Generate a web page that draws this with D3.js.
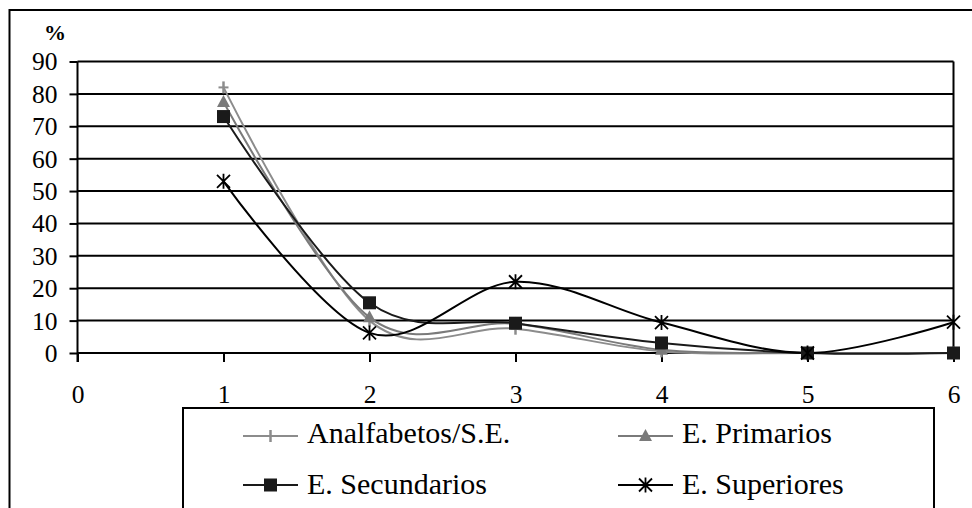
<!DOCTYPE html>
<html><head><meta charset="utf-8">
<script src="https://cdn.jsdelivr.net/npm/d3@7"></script>
<style>
html,body{margin:0;padding:0;background:#fff;}
svg{display:block;}
text{font-family:"Liberation Serif","Times New Roman",serif;fill:#000;}
</style></head>
<body>
<svg id="chart" width="972" height="508"></svg>
<script>
const xValues = [1, 2, 3, 4, 5, 6];
const seriesNames = ["Analfabetos/S.E.", "E. Primarios", "E. Secundarios", "E. Superiores"];
const analfabetos = [82, 10, 7.5, 0.5, 0, 0];
const primarios = [77.5, 11, 9, 1, 0, 0];
const secundarios = [73, 15.5, 9.2, 3.1, 0, 0];
const superiores = [53, 6.2, 22, 9.4, 0, 9.5];
const xTicks = [0, 1, 2, 3, 4, 5, 6];
const yTicks = [0, 10, 20, 30, 40, 50, 60, 70, 80, 90];
const yLabel = "%";

(function () {
const series = [
  {name: seriesNames[0], values: analfabetos, color: "#8c8c8c", marker: "plus"},
  {name: seriesNames[1], values: primarios, color: "#7a7a7a", marker: "triangle"},
  {name: seriesNames[2], values: secundarios, color: "#1a1a1a", marker: "square"},
  {name: seriesNames[3], values: superiores, color: "#000", marker: "star"}
];

const svg = d3.select("#chart");
const pLeft = 77.5, pRight = 953.5, pTop = 61.5, pBottom = 353;
const x = d3.scaleLinear().domain([0, 6]).range([pLeft, pRight]);
const y = d3.scaleLinear().domain([0, 90]).range([pBottom, pTop]);

// outer frame
svg.append("rect").attr("x", 9.5).attr("y", 10).attr("width", 1000).attr("height", 600)
  .attr("fill", "none").attr("stroke", "#000").attr("stroke-width", 2);

// gridlines
svg.append("g").selectAll("line").data(yTicks.filter(d => d > 0)).join("line")
  .attr("x1", pLeft).attr("x2", pRight).attr("y1", d => y(d)).attr("y2", d => y(d))
  .attr("stroke", "#000").attr("stroke-width", 2);

// right border
svg.append("line").attr("x1", pRight).attr("x2", pRight).attr("y1", pTop).attr("y2", pBottom)
  .attr("stroke", "#000").attr("stroke-width", 2);

// y axis
const yAxis = svg.append("g").attr("transform", `translate(${pLeft},0)`)
  .call(d3.axisLeft(y).tickValues(yTicks).tickFormat(d3.format("d")).tickSize(8).tickPadding(12));
yAxis.select(".domain").attr("stroke-width", 2).attr("d", `M0,${pTop}V${pBottom + 9}`);
yAxis.selectAll(".tick line").attr("stroke-width", 2);
yAxis.selectAll("text").attr("font-size", 25.5).attr("dy", "0.33em");

// x axis
const xAxis = svg.append("g").attr("transform", `translate(0,${pBottom})`)
  .call(d3.axisBottom(x).tickValues(xTicks).tickFormat(d3.format("d")).tickSize(9).tickPadding(23));
xAxis.select(".domain").attr("stroke-width", 2).attr("d", `M${pLeft},0H${pRight}`);
xAxis.selectAll(".tick line").attr("stroke-width", 2);
xAxis.selectAll("text").attr("font-size", 25.5);

// % label
svg.append("text").attr("x", 55).attr("y", 40).attr("text-anchor", "middle")
  .attr("font-size", 22).attr("font-weight", "bold").text(yLabel);

// lines
const line = d3.line().x((d, i) => x(xValues[i])).y(d => y(d)).curve(d3.curveCatmullRom.alpha(0));
const gLines = svg.append("g");
series.forEach(s => {
  gLines.append("path").attr("d", line(s.values)).attr("fill", "none")
    .attr("stroke", s.color).attr("stroke-width", 2);
});

function drawMarker(g, type, cx, cy, color) {
  if (type === "plus") {
    g.append("line").attr("x1", cx).attr("x2", cx).attr("y1", cy - 6).attr("y2", cy + 6)
      .attr("stroke", color).attr("stroke-width", 2.5);
    g.append("line").attr("x1", cx - 5).attr("x2", cx + 5).attr("y1", cy).attr("y2", cy)
      .attr("stroke", color).attr("stroke-width", 2);
  } else if (type === "triangle") {
    g.append("path").attr("d", `M${cx},${cy - 7}L${cx + 6.5},${cy + 5}L${cx - 6.5},${cy + 5}Z`)
      .attr("fill", color);
  } else if (type === "square") {
    g.append("rect").attr("x", cx - 6.5).attr("y", cy - 6.5).attr("width", 13).attr("height", 13)
      .attr("fill", color);
  } else if (type === "star") {
    const r = 6.5;
    g.append("path").attr("d", `M${cx - r},${cy - r}L${cx + r},${cy + r}M${cx - r},${cy + r}L${cx + r},${cy - r}M${cx},${cy - r - 1}V${cy + r + 1}`)
      .attr("stroke", color).attr("stroke-width", 1.8).attr("fill", "none");
  }
}
const gMarkers = svg.append("g");
series.forEach(s => {
  s.values.forEach((v, i) => drawMarker(gMarkers, s.marker, x(xValues[i]), y(v), s.color));
});

// legend
svg.append("rect").attr("x", 183).attr("y", 408).attr("width", 751).attr("height", 200)
  .attr("fill", "#fff").attr("stroke", "#000").attr("stroke-width", 2);
const legPos = [
  {lx: 243, ly: 436, ty: 443},
  {lx: 618, ly: 436, ty: 443},
  {lx: 243, ly: 485, ty: 494},
  {lx: 618, ly: 485, ty: 494}
];
const gLeg = svg.append("g");
series.forEach((s, i) => {
  const p = legPos[i];
  gLeg.append("line").attr("x1", p.lx).attr("x2", p.lx + 55).attr("y1", p.ly).attr("y2", p.ly)
    .attr("stroke", s.color).attr("stroke-width", 2);
  drawMarker(gLeg, s.marker, p.lx + 27.5, p.ly, s.color);
  gLeg.append("text").attr("x", p.lx + 64).attr("y", p.ty)
    .attr("font-size", 30).text(s.name);
});
})();
</script>
</body></html>
